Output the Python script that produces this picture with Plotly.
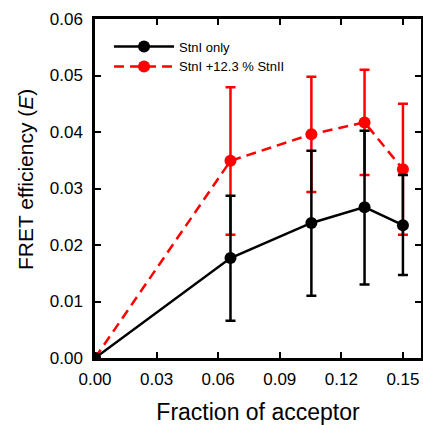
import plotly.graph_objects as go

x_frac = [0.0, 0.066, 0.1054, 0.1313, 0.150]

black_y = [0.0, 0.0177, 0.0239, 0.0267, 0.0235]
black_hi = [0.0, 0.0287, 0.0367, 0.0402, 0.0324]
black_lo = [0.0, 0.0066, 0.0110, 0.0130, 0.0147]

red_y = [0.0, 0.0349, 0.0396, 0.0417, 0.0334]
red_hi = [0.0, 0.0479, 0.0498, 0.0510, 0.0450]
red_lo = [0.0, 0.0218, 0.0294, 0.0324, 0.0218]

names = ["StnI only", "StnI +12.3 % StnII"]
x_ticks = [0.0, 0.03, 0.06, 0.09, 0.12, 0.15]
y_ticks = [0.0, 0.01, 0.02, 0.03, 0.04, 0.05, 0.06]

FONT = "Liberation Sans, Arial"

fig = go.Figure()

fig.add_trace(go.Scatter(
    x=x_frac, y=red_y, mode="lines+markers", name=names[1],
    line=dict(color="#ff0000", width=2.5, dash="10px,6px"),
    marker=dict(color="#ff0000", size=12),
    error_y=dict(type="data", symmetric=False,
                 array=[h - v for h, v in zip(red_hi, red_y)],
                 arrayminus=[v - l for l, v in zip(red_lo, red_y)],
                 color="#ff0000", thickness=2.5, width=5),
    legendrank=2,
))
fig.add_trace(go.Scatter(
    x=x_frac, y=black_y, mode="lines+markers", name=names[0],
    line=dict(color="black", width=2.5),
    marker=dict(color="black", size=12),
    error_y=dict(type="data", symmetric=False,
                 array=[h - v for h, v in zip(black_hi, black_y)],
                 arrayminus=[v - l for l, v in zip(black_lo, black_y)],
                 color="black", thickness=2.5, width=5),
    legendrank=1,
))

axis_common = dict(
    showline=True, linecolor="black", linewidth=2.5, mirror="ticks",
    ticks="inside", ticklen=6, tickwidth=2, tickcolor="black",
    showgrid=False, zeroline=False, automargin=False,
    tickfont=dict(family=FONT, size=17, color="black"),
)

fig.update_xaxes(
    range=[0, 0.1588], tickvals=x_ticks, tickformat=".2f",
    ticklabelstandoff=4,
    title=dict(text="Fraction of acceptor", font=dict(family=FONT, size=23, color="black"), standoff=18),
    **axis_common,
)
fig.update_yaxes(
    range=[0, 0.06], tickvals=y_ticks, tickformat=".2f",
    ticklabelstandoff=6,
    **axis_common,
)

fig.add_annotation(
    text="FRET efficiency (<i>E</i>)", textangle=-90,
    xref="paper", yref="paper", x=0, y=0.525, xanchor="center", yanchor="middle",
    xshift=-70, showarrow=False,
    font=dict(family=FONT, size=21, color="black"),
)

fig.update_layout(
    width=423, height=425,
    margin=dict(l=95, r=2, t=19, b=67),
    paper_bgcolor="white", plot_bgcolor="white",
    showlegend=True,
    legend=dict(x=0.043, y=0.963, xanchor="left", yanchor="top",
                font=dict(family=FONT, size=13, color="black"),
                bgcolor="rgba(0,0,0,0)", itemwidth=60, tracegroupgap=0),
)

# remove the default 8px page margin so the 423x425 figure fills the window exactly
fig.write_html(
    "out.html",
    config={"displayModeBar": False},
    post_script="document.body.style.margin='0';document.body.style.overflow='hidden';",
)
